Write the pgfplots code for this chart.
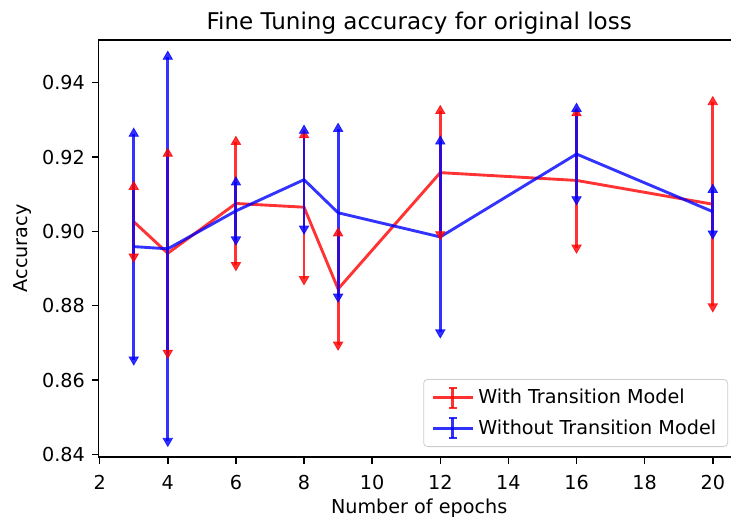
\documentclass[border=0pt]{standalone}
\usepackage{fontspec}
\setmainfont{DejaVu Sans}
\usepackage{pgfplots}
\pgfplotsset{compat=1.18}
\usepackage{pgfplotstable}

\pgfplotstableread{
x y e
3 0.9026 0.0094
4 0.8941 0.0268
6 0.9075 0.0166
8 0.9065 0.0194
9 0.8845 0.0150
12 0.9158 0.0166
16 0.9137 0.0181
20 0.9073 0.0275
}\withtm
\pgfplotstableread{
x y e
3 0.8959 0.0304
4 0.8953 0.0517
6 0.9055 0.0077
8 0.9139 0.0132
9 0.9050 0.0226
12 0.8985 0.0257
16 0.9208 0.0122
20 0.9053 0.0059
}\withouttm

\begin{document}
\begin{tikzpicture}
\begin{axis}[name=ax, scale only axis, width=334.2pt, height=217.2pt,
  xmin=1.96, xmax=20.8, ymin=0.8393, ymax=0.9515,
  xtick={2,4,6,8,10,12,14,16,18,20},
  ytick={0.84,0.86,0.88,0.90,0.92,0.94},
  yticklabel style={/pgf/number format/.cd, fixed, fixed zerofill, precision=2},
  xticklabel style={yshift=-2.5pt},
  /pgf/number format/assume math mode=true,
  tick label style={font=\fontsize{10}{12}\selectfont},
  tick align=outside, major tick length=3.5pt,
  xtick pos=bottom, ytick pos=left,
  axis line style={line width=0.8pt},
  every tick/.style={black, line width=0.8pt},
  title={Fine Tuning accuracy for original loss},
  title style={font=\fontsize{12}{14.4}\selectfont, at={(axis description cs:0.5,1)}, anchor=base, yshift=-0.8pt},
  xlabel={Number of epochs},
  xlabel style={font=\fontsize{10}{12}\selectfont, at={(axis description cs:0.5,0)}, anchor=base, yshift=-29.3pt},
  ylabel={Accuracy},
  ylabel style={font=\fontsize{10}{12}\selectfont, at={(axis description cs:-0.111,0.5)}, anchor=base},
  legend style={at={(axis description cs:1,0)}, anchor=south east, xshift=-6.25pt, yshift=5.2pt,
    draw=black!20, rounded corners=2pt, fill=white, fill opacity=0.8, text opacity=1,
    font=\fontsize{10}{12}\selectfont, row sep=2.8pt, inner xsep=4pt, inner ysep=3pt},
  legend cell align=left,
]
\addplot[red, opacity=0.8, line width=1.5pt,
  legend image code/.code={%
    \draw[red,opacity=0.8,line width=1.5pt] (0pt,0pt)--(21pt,0pt);
    \draw[red,opacity=0.8,line width=1.5pt] (10.5pt,-5.2pt)--(10.5pt,5.2pt);
    \draw[red,opacity=0.8,line width=1pt] (8.3pt,-5.2pt)--(12.7pt,-5.2pt) (8.3pt,5.2pt)--(12.7pt,5.2pt);},
  error bars/.cd, y dir=both, y explicit, error mark=none,
  error bar style={line width=1.5pt, red, opacity=0.8}]
  table[x=x, y=y, y error=e]{\withtm};
\addlegendentry{With Transition Model}
\addplot[only marks, red, opacity=0.8, mark=triangle*, mark size=2.8pt, forget plot]
  table[x=x, y expr=\thisrow{y}+\thisrow{e}]{\withtm};
\addplot[only marks, red, opacity=0.8, mark=triangle*, mark size=2.8pt, mark options={rotate=180}, forget plot]
  table[x=x, y expr=\thisrow{y}-\thisrow{e}]{\withtm};

\addplot[blue, opacity=0.8, line width=1.5pt,
  legend image code/.code={%
    \draw[blue,opacity=0.8,line width=1.5pt] (0pt,0pt)--(21pt,0pt);
    \draw[blue,opacity=0.8,line width=1.5pt] (10.5pt,-5.2pt)--(10.5pt,5.2pt);
    \draw[blue,opacity=0.8,line width=1pt] (8.3pt,-5.2pt)--(12.7pt,-5.2pt) (8.3pt,5.2pt)--(12.7pt,5.2pt);},
  error bars/.cd, y dir=both, y explicit, error mark=none,
  error bar style={line width=1.5pt, blue, opacity=0.8}]
  table[x=x, y=y, y error=e]{\withouttm};
\addlegendentry{Without Transition Model}
\addplot[only marks, blue, opacity=0.8, mark=triangle*, mark size=2.8pt, forget plot]
  table[x=x, y expr=\thisrow{y}+\thisrow{e}]{\withouttm};
\addplot[only marks, blue, opacity=0.8, mark=triangle*, mark size=2.8pt, mark options={rotate=180}, forget plot]
  table[x=x, y expr=\thisrow{y}-\thisrow{e}]{\withouttm};
\end{axis}
\pgfresetboundingbox
\path[use as bounding box] ([xshift=-51.2pt,yshift=-31.25pt]ax.south west) rectangle ([xshift=-4.7pt,yshift=20.8pt]ax.north east);
\end{tikzpicture}
\end{document}
